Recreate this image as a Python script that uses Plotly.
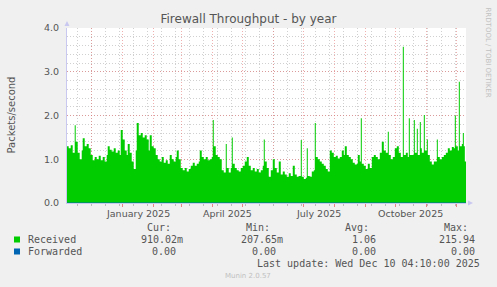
import plotly.graph_objects as go
import pandas as pd

# ---------------- data ----------------
dates = [
    "2024-11-06", "2024-11-08", "2024-11-10", "2024-11-12", "2024-11-14", "2024-11-15",
    "2024-11-17", "2024-11-19", "2024-11-21", "2024-11-22", "2024-11-24", "2024-11-26",
    "2024-11-28", "2024-11-30", "2024-12-02", "2024-12-04", "2024-12-06", "2024-12-08",
    "2024-12-10", "2024-12-12", "2024-12-14", "2024-12-16", "2024-12-17", "2024-12-19",
    "2024-12-21", "2024-12-23", "2024-12-25", "2024-12-27", "2024-12-29", "2024-12-30",
    "2025-01-01", "2025-01-03", "2025-01-05", "2025-01-06", "2025-01-08", "2025-01-10",
    "2025-01-12", "2025-01-14", "2025-01-15", "2025-01-17", "2025-01-19", "2025-01-21",
    "2025-01-23", "2025-01-25", "2025-01-27", "2025-01-28", "2025-01-30", "2025-02-01",
    "2025-02-03", "2025-02-05", "2025-02-07", "2025-02-09", "2025-02-11", "2025-02-13",
    "2025-02-15", "2025-02-17", "2025-02-19", "2025-02-21", "2025-02-23", "2025-02-24",
    "2025-02-26", "2025-02-28", "2025-03-02", "2025-03-04", "2025-03-06", "2025-03-08",
    "2025-03-10", "2025-03-12", "2025-03-14", "2025-03-16", "2025-03-18", "2025-03-19",
    "2025-03-21", "2025-03-23", "2025-03-25", "2025-03-27", "2025-03-29", "2025-03-31",
    "2025-04-01", "2025-04-02", "2025-04-04", "2025-04-06", "2025-04-08", "2025-04-10",
    "2025-04-12", "2025-04-14", "2025-04-15", "2025-04-17", "2025-04-19", "2025-04-20",
    "2025-04-21", "2025-04-23", "2025-04-25", "2025-04-27", "2025-04-29", "2025-05-01",
    "2025-05-03", "2025-05-05", "2025-05-07", "2025-05-09", "2025-05-11", "2025-05-13",
    "2025-05-15", "2025-05-17", "2025-05-19", "2025-05-21", "2025-05-22", "2025-05-23",
    "2025-05-25", "2025-05-27", "2025-05-29", "2025-05-31", "2025-06-02", "2025-06-04",
    "2025-06-06", "2025-06-08", "2025-06-10", "2025-06-12", "2025-06-14", "2025-06-16",
    "2025-06-18", "2025-06-20", "2025-06-22", "2025-06-24", "2025-06-26", "2025-06-28",
    "2025-06-29", "2025-07-01", "2025-07-03", "2025-07-04", "2025-07-05", "2025-07-07",
    "2025-07-09", "2025-07-11", "2025-07-12", "2025-07-13", "2025-07-15", "2025-07-17",
    "2025-07-19", "2025-07-21", "2025-07-23", "2025-07-25", "2025-07-27", "2025-07-29",
    "2025-07-31", "2025-08-02", "2025-08-04", "2025-08-06", "2025-08-08", "2025-08-10",
    "2025-08-11", "2025-08-13", "2025-08-15", "2025-08-17", "2025-08-19", "2025-08-21",
    "2025-08-23", "2025-08-24", "2025-08-26", "2025-08-27", "2025-08-28", "2025-08-30",
    "2025-09-01", "2025-09-03", "2025-09-05", "2025-09-07", "2025-09-09", "2025-09-11",
    "2025-09-13", "2025-09-15", "2025-09-17", "2025-09-19", "2025-09-21", "2025-09-23",
    "2025-09-24", "2025-09-26", "2025-09-28", "2025-09-30", "2025-10-02", "2025-10-04",
    "2025-10-06", "2025-10-08", "2025-10-09", "2025-10-11", "2025-10-13", "2025-10-14",
    "2025-10-15", "2025-10-17", "2025-10-19", "2025-10-20", "2025-10-22", "2025-10-23",
    "2025-10-25", "2025-10-26", "2025-10-27", "2025-10-29", "2025-10-30", "2025-11-01",
    "2025-11-02", "2025-11-04", "2025-11-06", "2025-11-08", "2025-11-11", "2025-11-12",
    "2025-11-14", "2025-11-16", "2025-11-18", "2025-11-20", "2025-11-22", "2025-11-24",
    "2025-11-26", "2025-11-28", "2025-11-29", "2025-11-30", "2025-12-02", "2025-12-03",
    "2025-12-04", "2025-12-06", "2025-12-07", "2025-12-08", "2025-12-09", "2025-12-10 04:10",
]
received = [
    1.30, 1.25, 1.32, 1.15, 1.78, 1.40,
    1.15, 1.00, 1.20, 1.48, 1.30, 1.35,
    1.25, 1.10, 0.98, 1.05, 1.00, 1.08,
    0.98, 1.05, 0.95, 1.10, 1.30, 1.22,
    1.18, 1.25, 1.15, 1.20, 1.10, 1.67,
    1.45, 1.20, 1.10, 1.35, 1.15, 0.95,
    0.78, 1.20, 1.83, 1.55, 1.60, 1.50,
    1.55, 1.45, 1.20, 1.55, 1.30, 1.25,
    1.10, 1.00, 0.95, 1.05, 0.92, 0.98,
    0.90, 1.10, 1.00, 0.95, 1.05, 1.20,
    1.00, 0.80, 0.75, 0.80, 0.72, 0.78,
    0.85, 0.92, 0.85, 0.90, 0.95, 1.20,
    1.05, 1.00, 1.05, 0.98, 1.00, 1.05,
    1.90, 1.30, 1.10, 1.05, 1.00, 0.75,
    0.70, 1.35, 0.80, 0.70, 0.80, 1.50,
    0.90, 0.80, 0.75, 0.72, 0.80, 0.85,
    0.95, 1.05, 0.85, 0.75, 0.80, 0.72,
    0.78, 0.70, 0.75, 0.85, 1.45, 0.95,
    0.80, 0.60, 0.75, 1.00, 0.80, 0.70,
    0.95, 0.65, 0.72, 0.65, 0.60, 0.68,
    0.62, 0.85, 0.65, 0.60, 0.62, 1.44,
    0.60, 0.55, 0.58, 1.25, 0.62, 0.60,
    0.72, 0.75, 1.83, 1.05, 1.00, 0.95,
    0.90, 0.85, 0.78, 0.72, 1.20, 1.15,
    1.05, 1.08, 1.02, 1.05, 1.20, 1.10,
    1.30, 1.10, 1.05, 1.00, 0.92, 0.88,
    0.90, 1.10, 0.95, 1.94, 0.90, 0.85,
    0.78, 0.90, 0.80, 1.05, 1.10, 1.05,
    1.00, 1.15, 1.40, 1.20, 1.15, 1.63,
    1.10, 1.00, 1.05, 1.25, 1.30, 1.15,
    1.05, 3.57, 1.10, 1.15, 1.05, 1.94,
    1.10, 1.10, 1.90, 1.15, 1.70, 1.10,
    1.85, 1.25, 1.15, 2.01, 1.20, 1.45,
    1.10, 0.95, 0.88, 0.95, 1.45, 1.05,
    1.00, 1.05, 1.10, 1.15, 1.25, 1.20,
    1.28, 1.25, 2.00, 1.30, 1.20, 2.77,
    1.30, 1.35, 1.60, 1.30, 0.95, 0.91,
]
forwarded_dates = ["2024-11-06", "2025-12-10 04:10"]
forwarded = [0.0, 0.0]

series_names = ["Received", "Forwarded"]
series_colors = ["#00cc00", "#0066b3"]
stat_headers = ["Cur:", "Min:", "Avg:", "Max:"]
received_stats = ["910.02m", "207.65m", "1.06", "215.94"]
forwarded_stats = ["0.00", "0.00", "0.00", "0.00"]

month_labels = ["January 2025", "April 2025", "July 2025", "October 2025"]
month_label_dates = ["2025-01-16", "2025-04-16", "2025-07-16", "2025-10-16"]

title = "Firewall Throughput - by year"
y_title = "Packets/second"
last_update = "Last update: Wed Dec 10 04:10:00 2025"
footer = "Munin 2.0.57"
side_text = "RRDTOOL / TOBI OETIKER"

x_start = "2024-11-06 07:00"
x_end = "2025-12-10 04:10"

# ---------------- layout geometry ----------------
W, H = 497, 287
L, R, T, B = 67, 466, 28, 203  # plot area in pixels


def px(x):
    return (x - L) / (R - L)


def py(y):
    return (B - y) / (B - T)


major_grid = "rgba(225,110,110,0.55)"
minor_grid = "rgba(170,170,170,0.55)"
grid_dash = "1px,2px"
text_col = "#555555"
axis_col = "#c8c8f0"
mono = "DejaVu Sans Mono"
sans = "DejaVu Sans"

fig = go.Figure()
fig.add_trace(go.Scatter(
    x=pd.to_datetime(dates, format="ISO8601"), y=received, mode="lines", line_shape="hv",
    line=dict(width=0, color=series_colors[0]), fill="tozeroy",
    fillcolor=series_colors[0], name=series_names[0], showlegend=False,
))
fig.add_trace(go.Scatter(
    x=pd.to_datetime(forwarded_dates, format="ISO8601"), y=forwarded, mode="lines", line_shape="hv",
    line=dict(width=1, color=series_colors[1]), name=series_names[1], showlegend=False,
))

month_starts = pd.date_range("2024-12-01", "2025-12-01", freq="MS")
biweekly = pd.date_range("2024-11-17", "2025-12-07", freq="14D")

fig.update_xaxes(
    type="date", range=[x_start, x_end],
    tickmode="array", tickvals=month_starts, ticktext=[""] * len(month_starts),
    showgrid=True, gridcolor=major_grid, griddash=grid_dash, gridwidth=1,
    ticks="outside", ticklen=3, tickcolor="rgba(230,120,120,0.9)",
    minor=dict(tickmode="array", tickvals=biweekly, showgrid=True,
               gridcolor=minor_grid, griddash=grid_dash, ticks="outside",
               ticklen=2, tickcolor="#bbbbbb"),
    showline=True, linecolor=axis_col, linewidth=1, zeroline=False,
)
fig.update_yaxes(
    range=[0, 4.0], tickmode="array", tickvals=[0, 1, 2, 3, 4],
    ticktext=["0.0", "1.0", "2.0", "3.0", "4.0"],
    showgrid=True, gridcolor=major_grid, griddash=grid_dash,
    minor=dict(dtick=0.2, showgrid=True, gridcolor=minor_grid, griddash=grid_dash),
    tickfont=dict(family=sans, size=9.5, color=text_col),
    ticks="outside", ticklen=2, tickcolor="rgba(255,255,255,0)",
    ticklabelstandoff=3,
    showline=True, linecolor=axis_col, linewidth=1, zeroline=False,
)

annotations = []
for lab, d in zip(month_labels, month_label_dates):
    annotations.append(dict(x=d, xref="x", y=py(213), yref="paper", text=lab,
                            showarrow=False, xanchor="center", yanchor="middle",
                            font=dict(family=sans, size=9.5, color=text_col)))

annotations.append(dict(x=px(10.5), y=py(115), xref="paper", yref="paper", text=y_title,
                        textangle=-90, showarrow=False, xanchor="center", yanchor="middle",
                        font=dict(family=sans, size=10, color=text_col)))
annotations.append(dict(x=px(487.5), y=py(53), xref="paper", yref="paper", text=side_text,
                        textangle=90, showarrow=False, xanchor="center", yanchor="middle",
                        font=dict(family=sans, size=7, color="#c0c0c0")))

head_x = [173, 272, 371, 470]
recv_x = [185, 285, 378, 477]
fwd_x = [178, 278, 378, 477]
for h, x in zip(stat_headers, head_x):
    annotations.append(dict(x=px(x), y=py(227), xref="paper", yref="paper", text=h,
                            showarrow=False, xanchor="right", yanchor="middle",
                            font=dict(family=mono, size=10, color=text_col)))
for v, x in zip(received_stats, recv_x):
    annotations.append(dict(x=px(x), y=py(239.5), xref="paper", yref="paper", text=v,
                            showarrow=False, xanchor="right", yanchor="middle",
                            font=dict(family=mono, size=10, color=text_col)))
for v, x in zip(forwarded_stats, fwd_x):
    annotations.append(dict(x=px(x), y=py(251.5), xref="paper", yref="paper", text=v,
                            showarrow=False, xanchor="right", yanchor="middle",
                            font=dict(family=mono, size=10, color=text_col)))
for name, yy in zip(series_names, [239.5, 251.5]):
    annotations.append(dict(x=px(26), y=py(yy), xref="paper", yref="paper", text=name,
                            showarrow=False, xanchor="left", yanchor="middle",
                            font=dict(family=mono, size=10, color=text_col)))
annotations.append(dict(x=px(482), y=py(263.5), xref="paper", yref="paper", text=last_update,
                        showarrow=False, xanchor="right", yanchor="middle",
                        font=dict(family=mono, size=10, color=text_col)))
annotations.append(dict(x=px(248), y=py(276), xref="paper", yref="paper", text=footer,
                        showarrow=False, xanchor="center", yanchor="middle",
                        font=dict(family=sans, size=7, color="#c0c0c0")))

shapes = []
for col, yy in zip(series_colors, [239.5, 251.5]):
    shapes.append(dict(type="rect", xref="paper", yref="paper",
                       x0=px(14), x1=px(20), y0=py(yy - 3), y1=py(yy + 3),
                       fillcolor=col, line=dict(width=0)))
# axis arrows
shapes.append(dict(type="path", xref="paper", yref="paper",
                   path=f"M {px(64.5)} {py(26)} L {px(69.5)} {py(26)} L {px(67)} {py(21)} Z",
                   fillcolor=axis_col, line=dict(width=0)))
shapes.append(dict(type="path", xref="paper", yref="paper",
                   path=f"M {px(468)} {py(200.5)} L {px(468)} {py(205.5)} L {px(473)} {py(203)} Z",
                   fillcolor=axis_col, line=dict(width=0)))

fig.update_layout(
    width=W, height=H, autosize=False,
    margin=dict(l=L, r=W - R, t=T, b=H - B, pad=0),
    paper_bgcolor="#f0f0f0", plot_bgcolor="#ffffff",
    title=dict(text=title, x=px(248.5), xref="paper", xanchor="center",
               y=1 - 19 / H, yref="container", yanchor="middle",
               font=dict(family=sans, size=12, color=text_col)),
    annotations=annotations, shapes=shapes, showlegend=False,
)

fig.write_html("out.html")
